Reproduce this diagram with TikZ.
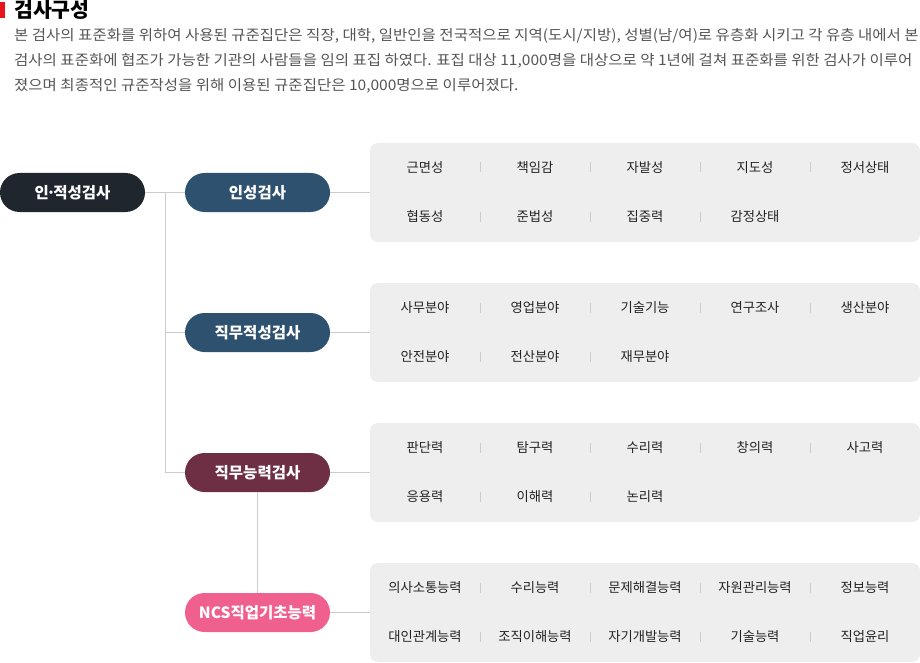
\documentclass[tikz,border=0pt]{standalone}
\usepackage{fontspec}
\setmainfont{Noto Sans CJK KR}
\newfontfamily\parafont[FakeStretch=1.07]{Noto Sans CJK KR}
\definecolor{rootc}{HTML}{1F262D}
\definecolor{bluec}{HTML}{2F5170}
\definecolor{winec}{HTML}{6E2F45}
\definecolor{pinkc}{HTML}{F0608F}
\definecolor{boxc}{HTML}{EEEEEE}
\definecolor{linec}{HTML}{CCCCCC}
\definecolor{txtc}{HTML}{555555}
\definecolor{itemc}{HTML}{222222}
\definecolor{redc}{HTML}{E8141B}
\tikzset{
  pill/.style={rounded corners=19.5pt, minimum width=145pt, minimum height=39pt, inner sep=0pt, text=white, font=\fontsize{15.5}{17}\selectfont\bfseries},
  panel/.style={fill=boxc, rounded corners=8pt, minimum width=550pt, minimum height=99pt, inner sep=0pt},
  item/.style={font=\fontsize{13.3}{15}\selectfont, text=itemc, inner sep=0pt},
  para/.style={font=\parafont\fontsize{14.5}{16}\selectfont, text=txtc, anchor=west, inner sep=0pt},
  conn/.style={draw=linec, line width=1pt},
  sepl/.style={draw=linec, line width=0.8pt}
}
\begin{document}
\begin{tikzpicture}[x=1pt,y=-1pt]
\useasboundingbox (0,0) rectangle (920,663);
% title
\fill[redc] (0,2) rectangle (5,18);
\node[anchor=west, inner sep=0pt, font=\fontsize{20.5}{22}\selectfont\bfseries] (title) at (14,10) {검사구성};
\node[para] (p1) at (14,36) {본 검사의 표준화를 위하여 사용된 규준집단은 직장, 대학, 일반인을 전국적으로 지역(도시/지방), 성별(남/여)로 유층화 시키고 각 유층 내에서 본};
\node[para] (p2) at (14,61) {검사의 표준화에 협조가 가능한 기관의 사람들을 임의 표집 하였다. 표집 대상 11,000명을 대상으로 약 1년에 걸쳐 표준화를 위한 검사가 이루어};
\node[para] (p3) at (14,86) {졌으며 최종적인 규준작성을 위해 이용된 규준집단은 10,000명으로 이루어졌다.};
% pills
\node[pill, fill=rootc] (root) at (72.5,192.5) {인\kern-2.5pt·\kern-2.5pt적성검사};
\node[pill, fill=bluec] (a) at (257.5,192.5) {인성검사};
\node[pill, fill=bluec] (b) at (257.5,332.5) {직무적성검사};
\node[pill, fill=winec] (c) at (257.5,472.5) {직무능력검사};
\node[pill, fill=pinkc] (d) at (257.5,612.5) {NCS직업기초능력};
% panels
\node[panel] (pa) at (645,192.5) {};
\node[panel] (pb) at (645,332.5) {};
\node[panel] (pc) at (645,472.5) {};
\node[panel] (pd) at (645,612.5) {};
% connectors
\coordinate (j) at (165,192.5);
\draw[conn] (root.east) -- (a.west);
\draw[conn] (j) |- (c.west);
\draw[conn] (j |- b.west) -- (b.west);
\draw[conn] (c.south) -- (d.north);
\draw[conn] (a.east) -- (pa.west);
\draw[conn] (b.east) -- (pb.west);
\draw[conn] (c.east) -- (pc.west);
\draw[conn] (d.east) -- (pd.west);
% items
\foreach \p/\ya/\yb/\la/\lb in {
  pa/{근면성,책임감,자발성,지도성,정서상태}/{협동성,준법성,집중력,감정상태}/5/4,
  pb/{사무분야,영업분야,기술기능,연구조사,생산분야}/{안전분야,전산분야,재무분야}/5/3,
  pc/{판단력,탐구력,수리력,창의력,사고력}/{응용력,이해력,논리력}/5/3,
  pd/{의사소통능력,수리능력,문제해결능력,자원관리능력,정보능력}/{대인관계능력,조직이해능력,자기개발능력,기술능력,직업윤리}/5/5}{
  \foreach \t [count=\i] in \ya {
    \node[item] (\p r1c\i) at ([xshift=\i*110-330, yshift=25]\p.center) {\t};
  }
  \foreach \t [count=\i] in \yb {
    \node[item] (\p r2c\i) at ([xshift=\i*110-330, yshift=-24]\p.center) {\t};
  }
  \foreach \i in {2,...,\la} {
    \draw[sepl] ([xshift=\i*110-385, yshift=30]\p.center) -- ++(0,10);
  }
  \foreach \i in {2,...,\lb} {
    \draw[sepl] ([xshift=\i*110-385, yshift=-19]\p.center) -- ++(0,10);
  }
}
\end{tikzpicture}
\end{document}
